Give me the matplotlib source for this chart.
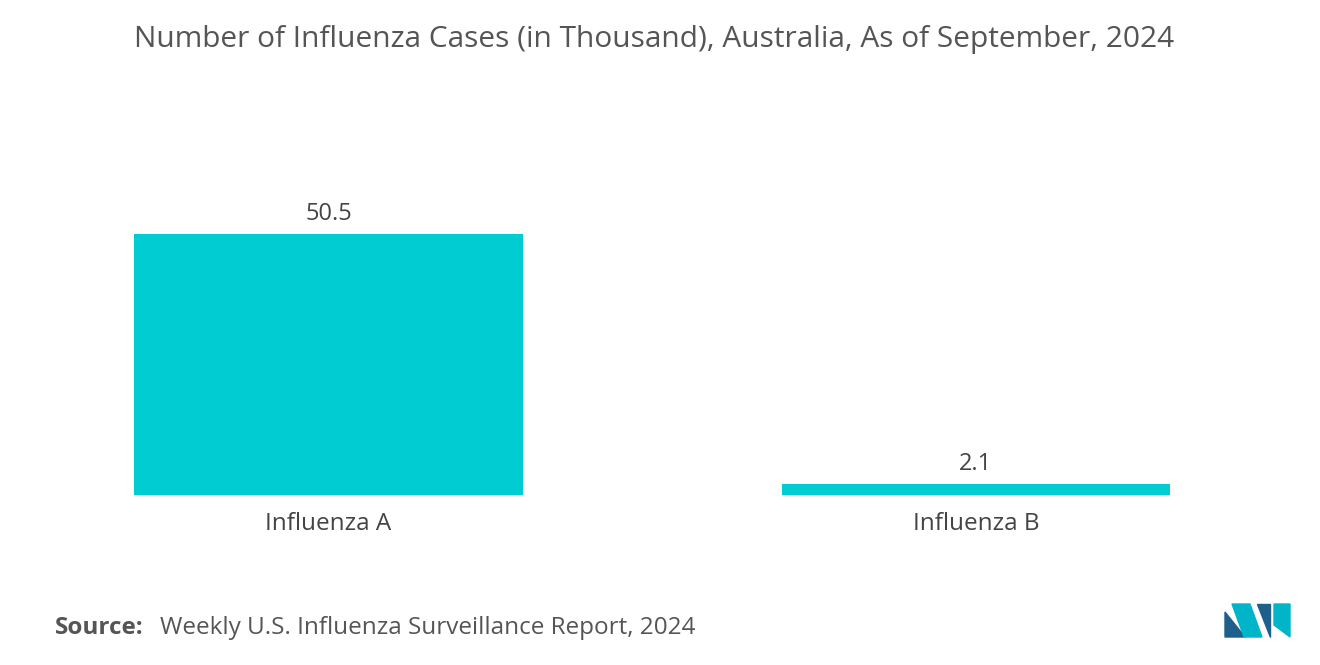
import matplotlib
matplotlib.use("Agg")
import matplotlib.pyplot as plt
from matplotlib.patches import Polygon

categories = ["Influenza A", "Influenza B"]
values = [50.5, 2.1]
value_labels = ["50.5", "2.1"]

FONT = "Open Sans"
fig = plt.figure(figsize=(13.2, 6.65), dpi=100)
ax = fig.add_axes([4.75/1320, (665-495)/665, 1295/1320, (495-210.8)/665])
ax.bar(range(len(categories)), values, width=0.6, color="#00CCD2")
ax.set_xlim(-0.5, 1.5)
ax.set_ylim(0, 55)
for i, (v, t) in enumerate(zip(values, value_labels)):
    ax.text(i, v + 1.6, t, ha="center", va="bottom", fontsize=17, color="#444444", family=FONT)
ax.set_xticks(range(len(categories)))
ax.set_xticklabels(categories, fontsize=17.5, color="#444444", family=FONT)
ax.tick_params(axis="x", length=0, pad=12)
ax.set_yticks([])
for s in ax.spines.values():
    s.set_visible(False)

fig.text(654/1320, 1 - 40/665, "Number of Influenza Cases (in Thousand), Australia, As of September, 2024",
         ha="center", va="center", fontsize=21.5, color="#555555", family=FONT)
fig.text(55/1320, 1 - 628/665, "Source:", ha="left", va="center", fontsize=17.5,
         color="#555555", family=FONT, weight="bold")
fig.text(160/1320, 1 - 628/665, "Weekly U.S. Influenza Surveillance Report, 2024", ha="left",
         va="center", fontsize=17.5, color="#555555", family=FONT)

# logo
def px(x, y):
    return (x/1320, 1 - y/665)
polys = [
    ([(1225, 637), (1225, 612), (1245, 637)], "#1F5F8B"),
    ([(1232, 604), (1250, 604), (1262, 637), (1244, 637)], "#00B5C8"),
    ([(1257, 604), (1270, 604), (1270, 637)], "#1F5F8B"),
    ([(1274, 604), (1290, 604), (1290, 637), (1274, 625)], "#00B5C8"),
]
for pts, c in polys:
    fig.patches.append(Polygon([px(*p) for p in pts], closed=True, color=c,
                               transform=fig.transFigure, figure=fig))

fig.savefig("out.png", dpi=100, facecolor="white")
